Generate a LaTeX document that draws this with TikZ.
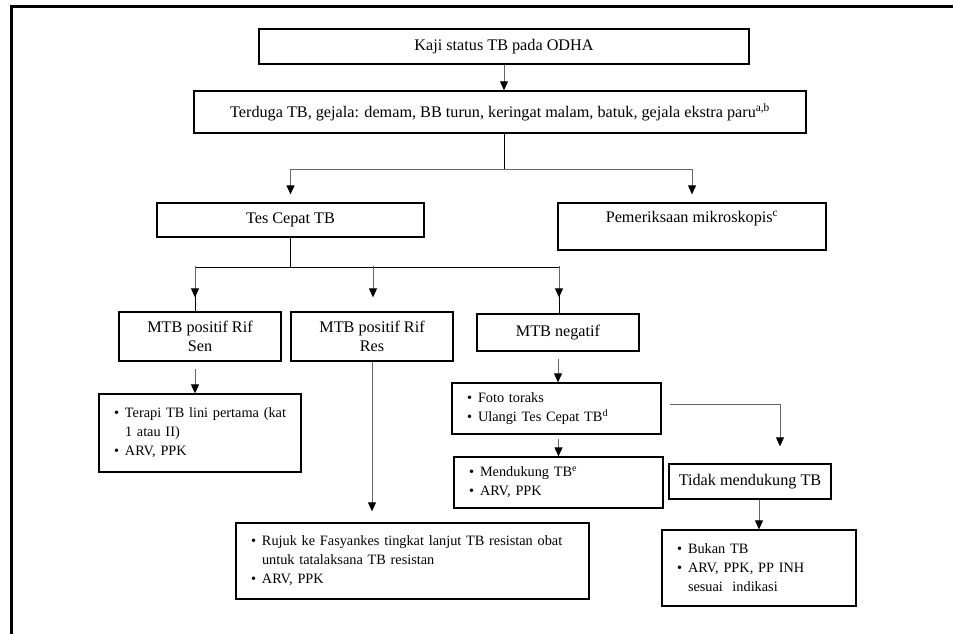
\documentclass[tikz,border=0pt]{standalone}
\usepackage{fontspec}
\setmainfont{Liberation Serif}
\usepackage{tikz}
\usetikzlibrary{positioning,arrows.meta,calc}
\newcommand{\mainsz}{\fontsize{16.2}{19.5}\selectfont}
\newcommand{\listsz}{\fontsize{14.3}{19}\selectfont}
\newcommand{\itm}[1]{\mbox{\makebox[11pt][l]{\textbullet}#1}}
\newcommand{\itmc}[1]{\mbox{\hspace*{11pt}#1}}
\tikzset{
  node-box/.style={draw=black,line width=1.3pt,align=center,font=\mainsz,
    inner sep=0pt},
  node-list/.style={draw=black,line width=1.3pt,align=left,font=\listsz,
    inner xsep=15pt,inner ysep=0pt},
  arrow/.style={-{Triangle[length=9pt,width=8pt,color=black]},
    line width=0.9pt,draw=black!60},
  arrow-join/.style={line width=0.9pt,draw=black},
}

\begin{document}
\begin{tikzpicture}[x=1pt,y=-1pt]
  \useasboundingbox (0,0) rectangle (953,634);
  \draw[line width=3pt] (11,634) -- (11,7) -- (953,7);
  % skrining
  \node[node-box,minimum width=490pt,minimum height=35pt]
    (kaji) at (504,46.5) {Kaji status TB pada ODHA};
  \node[node-box,minimum width=612pt,minimum height=42pt]
    (terduga) at (500,112) {Terduga TB, gejala: demam, BB turun, keringat malam,
    batuk, gejala ekstra paru\textsuperscript{a,b}};
  \node[node-box,minimum width=267pt,minimum height=34pt]
    (tes) at (290.5,220) {Tes Cepat TB};
  \node[node-box,minimum width=268pt,minimum height=47pt]
    (mikro) at (692,226.5) {Pemeriksaan mikroskopis\textsuperscript{c}\\\mbox{}};
  % hasil tes cepat
  \node[node-box,minimum width=162pt,minimum height=49pt]
    (sen) at (200,336.5) {MTB positif Rif\\Sen};
  \node[node-box,minimum width=162pt,minimum height=49pt]
    (res) at (372,336.5) {MTB positif Rif\\Res};
  \node[node-box,minimum width=162pt,minimum height=37pt]
    (neg) at (558,332.5) {MTB negatif};
  % tatalaksana
  \node[node-list,text width=172pt,minimum height=78pt] (terapi) at (200,433)
    {\itm{Terapi TB lini pertama (kat}\\\itmc{1 atau II)}\\\itm{ARV, PPK}};
  \node[node-list,text width=323pt,minimum height=76pt] (rujuk) at (412.5,561)
    {\itm{Rujuk ke Fasyankes tingkat lanjut TB resistan obat}\\
     \itmc{untuk tatalaksana TB resistan}\\\itm{ARV, PPK}};
  \node[node-list,text width=179pt,minimum height=51pt] (foto) at (556.5,408.5)
    {\itm{Foto toraks}\\\itm{Ulangi Tes Cepat TB\textsuperscript{d}}};
  \node[node-list,text width=179pt,minimum height=51pt] (dukung) at (558.5,482.5)
    {\itm{Mendukung TB\textsuperscript{e}}\\\itm{ARV, PPK}};
  \node[node-box,minimum width=162pt,minimum height=35pt]
    (tidak) at (750,481.5) {Tidak mendukung TB};
  \node[node-list,text width=164pt,minimum height=76pt] (bukan) at (759,568)
    {\itm{Bukan TB}\\\itm{ARV, PPK, PP INH}\\\itmc{sesuai\ \ indikasi}};
  % panah
  \draw[arrow] (kaji.south) -- (kaji.south |- terduga.north);
  \coordinate (t1) at ($(kaji.south |- terduga.south)+(0,36)$);
  \draw[arrow-join] (kaji.south |- terduga.south) -- (t1);
  \draw[arrow,shorten >=8pt] (t1) -| (tes.north);
  \draw[arrow,shorten >=8pt] (t1) -| (mikro.north);
  \coordinate (t2) at ($(tes.south)+(0,30)$);
  \draw[arrow-join] (tes.south) -- (t2);
  \draw[arrow-join] (t2) -| ($(sen.north)+(-5,0)$);
  \draw[arrow-join] (t2) -| ($(neg.north)+(1,0)$);
  \draw[arrow,shorten >=14pt] ($(sen.north)+(-5,-45)$) -- ($(sen.north)+(-5,0)$);
  \draw[arrow,shorten >=14pt] ($(res.north)+(1,-45)$) -- ($(res.north)+(1,0)$);
  \draw[arrow,shorten >=16pt] ($(neg.north)+(1,-47)$) -- ($(neg.north)+(1,0)$);
  \draw[arrow,shorten <=7pt] ($(sen.south)+(-5,0)$) -- ($(terapi.north)+(-5,0)$);
  \draw[arrow,shorten >=11pt] (res.south) -- (res.south |- rujuk.north);
  \draw[arrow,shorten <=7pt] (neg.south) -- (neg.south |- foto.north);
  \draw[arrow,shorten <=4pt] ($(foto.south)+(2,0)$) -- ($(foto.south |- dukung.north)+(2,0)$);
  \coordinate (tidak-in) at ($(tidak.north)+(30,-17)$);
  \draw[arrow] ($(foto.east)+(8,-4.5)$) -| (tidak-in);
  \draw[arrow] (bukan.north |- tidak.south) -- (bukan.north);
\end{tikzpicture}
\end{document}
